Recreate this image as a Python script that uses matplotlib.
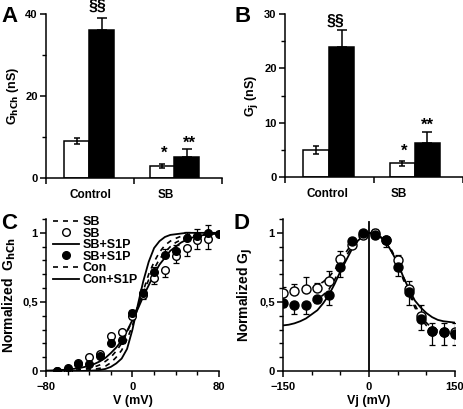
import matplotlib
matplotlib.use("Agg")
import matplotlib.pyplot as plt
from matplotlib.ticker import FixedLocator, FuncFormatter

plt.rcParams['font.family'] = ['Liberation Sans', 'DejaVu Sans']
plt.rcParams['font.weight'] = 'bold'
plt.rcParams['axes.labelweight'] = 'bold'
plt.rcParams['axes.linewidth'] = 1.1
plt.rcParams['xtick.major.width'] = 1.1
plt.rcParams['ytick.major.width'] = 1.1
plt.rcParams['xtick.minor.width'] = 1.0
plt.rcParams['ytick.minor.width'] = 1.0

# ---- bar data (A, B) ----
groups = ["Control", "SB"]
ghch_open = [9.0, 3.0]
ghch_open_err = [0.8, 0.5]
ghch_black = [36.0, 5.0]
ghch_black_err = [3.0, 2.0]
gj_open = [5.0, 2.5]
gj_open_err = [0.7, 0.5]
gj_black = [24.0, 6.3]
gj_black_err = [3.0, 2.0]

# ---- C data ----
v_sb = [-70, -60, -50, -40, -30, -20, -10, 0, 10, 20, 30, 40, 50, 60, 70]
g_sb = [0.0, 0.0, 0.06, 0.10, 0.12, 0.25, 0.28, 0.40, 0.55, 0.67, 0.73, 0.83, 0.89, 0.945, 0.955]
g_sb_err = [0.01, 0.01, 0.01, 0.01, 0.02, 0.02, 0.02, 0.02, 0.03, 0.04, 0.05, 0.05, 0.06, 0.06, 0.07]
v_sbs1p = [-70, -60, -50, -40, -30, -20, -10, 0, 10, 20, 30, 40, 50, 60, 70, 80]
g_sbs1p = [0.0, 0.02, 0.05, 0.05, 0.11, 0.205, 0.225, 0.42, 0.565, 0.72, 0.84, 0.87, 0.965, 0.98, 1.0, 0.99]
g_sbs1p_err = [0.01, 0.01, 0.01, 0.01, 0.02, 0.02, 0.02, 0.02, 0.03, 0.03, 0.04, 0.04, 0.04, 0.05, 0.06, 0.02]

v_fit = [-80, -75, -70, -65, -60, -55, -50, -45, -40, -35, -30, -25, -20, -15, -10, -5,
         0, 5, 10, 15, 20, 25, 30, 35, 40, 45, 50, 55, 60, 65, 70, 75, 80]
fit_sb = [0.0, 0.0, 0.001, 0.002, 0.003, 0.005, 0.008, 0.013, 0.02, 0.03, 0.045, 0.07, 0.10, 0.145,
          0.20, 0.28, 0.37, 0.47, 0.57, 0.66, 0.74, 0.81, 0.86, 0.90, 0.93, 0.95, 0.965, 0.975,
          0.983, 0.988, 0.992, 0.995, 0.997]
fit_sbs1p = [0.003, 0.004, 0.006, 0.008, 0.011, 0.015, 0.02, 0.028, 0.038, 0.052, 0.07, 0.095, 0.13,
             0.17, 0.22, 0.29, 0.37, 0.45, 0.54, 0.62, 0.70, 0.77, 0.82, 0.87, 0.90, 0.93, 0.95,
             0.965, 0.975, 0.983, 0.988, 0.992, 0.995]
fit_con = [0.0, 0.0, 0.0, 0.0, 0.001, 0.002, 0.003, 0.005, 0.008, 0.013, 0.02, 0.035, 0.06, 0.10,
           0.15, 0.23, 0.33, 0.46, 0.58, 0.70, 0.79, 0.86, 0.91, 0.94, 0.96, 0.975, 0.985, 0.99,
           0.995, 0.997, 0.998, 0.999, 1.0]
fit_cons1p = [0.0, 0.0, 0.0, 0.0, 0.0, 0.0, 0.0, 0.001, 0.002, 0.004, 0.008, 0.015, 0.03, 0.055,
              0.09, 0.16, 0.30, 0.48, 0.65, 0.79, 0.89, 0.94, 0.97, 0.985, 0.99, 0.995, 1.0, 1.0,
              1.0, 1.0, 1.0, 1.0, 1.0]

# ---- D data ----
vj = [-150, -130, -110, -90, -70, -50, -30, -10, 10, 30, 50, 70, 90, 110, 130, 150]
gj_sb = [0.566, 0.576, 0.59, 0.60, 0.655, 0.81, 0.91, 0.985, 1.0, 0.95, 0.80, 0.59, 0.40, 0.29, 0.28, 0.28]
gj_sb_err = [0.04, 0.055, 0.09, 0.04, 0.07, 0.06, 0.03, 0.02, 0.03, 0.02, 0.04, 0.065, 0.08, 0.06, 0.07, 0.07]
gj_s1p = [0.49, 0.48, 0.48, 0.52, 0.55, 0.75, 0.94, 1.0, 0.985, 0.95, 0.75, 0.57, 0.38, 0.29, 0.28, 0.27]
gj_s1p_err = [0.03, 0.07, 0.07, 0.03, 0.07, 0.07, 0.03, 0.02, 0.02, 0.05, 0.06, 0.09, 0.08, 0.10, 0.09, 0.08]

vj_fit = [-150, -140, -130, -120, -110, -100, -90, -80, -70, -60, -50, -40, -30, -20, -10, 0,
          10, 20, 30, 40, 50, 60, 70, 80, 90, 100, 110, 120, 130, 140, 150]
fitj_solid = [0.33, 0.335, 0.345, 0.36, 0.38, 0.41, 0.44, 0.49, 0.55, 0.63, 0.72, 0.80, 0.88, 0.94,
              0.98, 1.0, 0.99, 0.97, 0.93, 0.86, 0.78, 0.68, 0.59, 0.51, 0.46, 0.42, 0.39, 0.37,
              0.36, 0.355, 0.35]
fitj_s1p = [0.49, 0.49, 0.49, 0.49, 0.495, 0.50, 0.52, 0.55, 0.59, 0.66, 0.74, 0.83, 0.90, 0.95,
            0.99, 1.0, 0.99, 0.97, 0.93, 0.86, 0.77, 0.66, 0.56, 0.46, 0.38, 0.33, 0.30, 0.285,
            0.275, 0.27, 0.27]
fitj_sb = [0.57, 0.575, 0.58, 0.59, 0.595, 0.60, 0.62, 0.645, 0.68, 0.73, 0.79, 0.86, 0.92, 0.96,
           0.99, 1.0, 0.99, 0.97, 0.93, 0.87, 0.78, 0.68, 0.58, 0.48, 0.40, 0.35, 0.31, 0.295,
           0.285, 0.28, 0.28]

fig = plt.figure(figsize=(4.64, 4.09), dpi=100)
TICK = 8
LAB = 9


def comma(x, pos):
    return ('%g' % x).replace('.', ',')


def bar_panel(rect, openv, opene, blackv, blacke, ymax, major, minor, ylabel, lab_x, notes):
    ax = fig.add_axes(rect)
    left_pos = [0.35, 1.32]
    right_pos = [0.635, 1.60]
    w = 0.285
    ax.bar(left_pos, openv, w, color='white', edgecolor='black', linewidth=1.1, zorder=2)
    ax.bar(right_pos, blackv, w, color='black', edgecolor='black', linewidth=1.1, zorder=2)
    ax.errorbar(left_pos, openv, yerr=opene, fmt='none', ecolor='black', elinewidth=1.1,
                capsize=2.5, capthick=1.1, zorder=3)
    ax.errorbar(right_pos, blackv, yerr=[[0, 0], blacke], fmt='none', ecolor='black',
                elinewidth=1.1, capsize=3.5, capthick=1.1, zorder=3)
    ax.set_xlim(0, 2)
    ax.set_ylim(0, ymax)
    ax.spines['top'].set_visible(False)
    ax.spines['right'].set_visible(False)
    ax.set_xticks([0, 1, 2])
    ax.set_xticklabels([])
    ax.tick_params(axis='x', length=4, direction='out')
    for x, g in zip(lab_x, groups):
        ax.text(x, -0.07, g, transform=ax.get_xaxis_transform(), ha='center', va='top',
                fontsize=8.5, fontweight='bold')
    ax.set_yticks(major)
    ax.yaxis.set_minor_locator(FixedLocator(minor))
    ax.tick_params(axis='y', which='major', length=4, labelsize=TICK, pad=2)
    ax.tick_params(axis='y', which='minor', length=3)
    ax.set_ylabel(ylabel, fontsize=LAB, labelpad=3)
    for x, y, t, fs in notes:
        ax.text(x, y, t, ha='center', va='center', fontsize=fs, fontweight='bold', clip_on=False)
    return ax


axA = bar_panel([0.0991, 0.5648, 0.3793, 0.4010], ghch_open, ghch_open_err, ghch_black,
                ghch_black_err, 40, [0, 20, 40], [10, 30], r'G$_{\mathbf{hCh}}$ (nS)',
                [0.5, 1.36],
                [(0.59, 41.8, '§§', 11.5), (1.34, 6.0, '*', 12), (1.63, 8.4, '**', 12)])
axB = bar_panel([0.6142, 0.5672, 0.3836, 0.3985], gj_open, gj_open_err, gj_black,
                gj_black_err, 30, [0, 10, 20, 30], [5, 15, 25], r'G$_{\mathbf{j}}$ (nS)',
                [0.48, 1.28],
                [(0.57, 28.6, '§§', 11.5), (1.34, 4.8, '*', 12), (1.6, 9.6, '**', 12)])

# ---- C ----
axC = fig.add_axes([0.0991, 0.0929, 0.3728, 0.3716])
l1, = axC.plot(v_fit, fit_sb, color='black', lw=1.2, ls=(0, (3, 3)))
axC.plot(v_fit, fit_con, color='black', lw=1.2, ls=(0, (3, 3)))
l3, = axC.plot(v_fit, fit_sbs1p, color='black', lw=1.3)
l6, = axC.plot(v_fit, fit_cons1p, color='black', lw=1.3)
axC.errorbar(v_sb, g_sb, yerr=[g_sb_err, [0] * len(g_sb_err)], fmt='none', ecolor='black',
             elinewidth=0.9, capsize=2.2, capthick=0.9, zorder=3)
axC.errorbar(v_sbs1p, g_sbs1p, yerr=[[0] * len(g_sbs1p_err), g_sbs1p_err], fmt='none',
             ecolor='black', elinewidth=0.9, capsize=2.2, capthick=0.9, zorder=3)
l2, = axC.plot(v_sb, g_sb, 'o', ms=5.5, mfc='white', mec='black', mew=1.0, zorder=4)
l4, = axC.plot(v_sbs1p, g_sbs1p, 'o', ms=5.5, mfc='black', mec='black', mew=1.0, zorder=5)
axC.set_xlim(-80, 80)
axC.set_ylim(0, 1.1)
axC.spines['top'].set_visible(False)
axC.spines['right'].set_visible(False)
axC.set_xticks([-80, 0, 80])
axC.xaxis.set_minor_locator(FixedLocator([-60, -40, -20, 20, 40, 60]))
axC.set_yticks([0, 0.5, 1])
axC.yaxis.set_minor_locator(FixedLocator([0.1, 0.2, 0.3, 0.4, 0.6, 0.7, 0.8, 0.9, 1.1]))
axC.yaxis.set_major_formatter(FuncFormatter(comma))
axC.tick_params(which='major', length=4, labelsize=TICK)
axC.tick_params(axis='y', pad=2)
axC.tick_params(axis='x', pad=4)
axC.tick_params(which='minor', length=3)
axC.set_xlabel('V (mV)', fontsize=LAB, labelpad=2)
axC.set_ylabel(r'Normalized  G$_{\mathbf{hCh}}$', fontsize=10, labelpad=3)
l5, = axC.plot([], [], color='black', lw=1.2, ls=(0, (3, 3)))
axC.legend([l1, l2, l3, l4, l5, l6], ['SB', 'SB', 'SB+S1P', 'SB+S1P', 'Con', 'Con+S1P'],
           loc='upper left', bbox_to_anchor=(0.04, 1.02), frameon=False,
           handlelength=2.1, handletextpad=0.3, labelspacing=-0.03, borderpad=0,
           borderaxespad=0, prop={'weight': 'bold', 'size': 9})

# ---- D ----
axD = fig.add_axes([0.6099, 0.0929, 0.3707, 0.3716])
axD.plot(vj_fit, fitj_solid, color='black', lw=1.3)
axD.plot(vj_fit, fitj_sb, color='black', lw=1.2, ls=(0, (3, 3)))
axD.plot(vj_fit, fitj_s1p, color='black', lw=1.2, ls=(0, (3, 3)))
axD.errorbar(vj, gj_sb, yerr=[[0] * len(gj_sb_err), gj_sb_err], fmt='none', ecolor='black',
             elinewidth=0.9, capsize=2.2, capthick=0.9, zorder=3)
axD.errorbar(vj, gj_s1p, yerr=[gj_s1p_err, [0] * len(gj_s1p_err)], fmt='none',
             ecolor='black', elinewidth=0.9, capsize=2.2, capthick=0.9, zorder=3)
axD.plot(vj, gj_sb, 'o', ms=6.5, mfc='white', mec='black', mew=1.0, zorder=4)
axD.plot(vj, gj_s1p, 'o', ms=6.5, mfc='black', mec='black', mew=1.0, zorder=5)
axD.plot([0, 0], [0, 1.08], color='black', lw=1.3)
axD.set_xlim(-150, 150)
axD.set_ylim(0, 1.1)
axD.spines['top'].set_visible(False)
axD.spines['right'].set_visible(False)
axD.set_xticks([-150, 0, 150])
axD.xaxis.set_minor_locator(FixedLocator([-100, -50, 50, 100]))
axD.set_yticks([0, 0.5, 1])
axD.yaxis.set_minor_locator(FixedLocator([0.1, 0.2, 0.3, 0.4, 0.6, 0.7, 0.8, 0.9, 1.1]))
axD.yaxis.set_major_formatter(FuncFormatter(comma))
axD.tick_params(which='major', length=4, labelsize=TICK)
axD.tick_params(axis='y', pad=2)
axD.tick_params(axis='x', pad=4)
axD.tick_params(which='minor', length=3)
axD.set_xlabel('Vj (mV)', fontsize=LAB, labelpad=2)
axD.set_ylabel(r'Normalized G$_{\mathbf{J}}$', fontsize=10, labelpad=3)

# panel letters
for x, y, t in [(0.004, 0.985, 'A'), (0.505, 0.985, 'B'), (0.002, 0.478, 'C'), (0.503, 0.478, 'D')]:
    fig.text(x, y, t, fontsize=16, fontweight='bold', ha='left', va='top')

fig.savefig('out.png', dpi=100)
